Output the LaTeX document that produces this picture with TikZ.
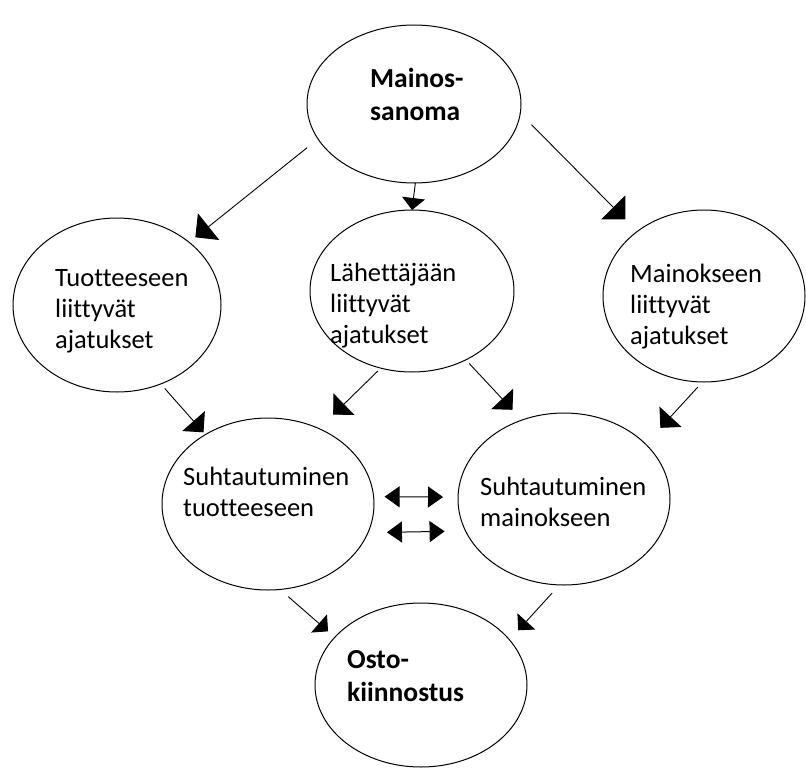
\documentclass[tikz,border=0pt]{standalone}
\usepackage{fontspec}
\setmainfont{Carlito}[Ligatures=NoCommon]
\usetikzlibrary{shapes.geometric,arrows.meta}
\begin{document}
\begin{tikzpicture}[x=1pt,y=-1pt,
  ell/.style={draw, line width=1pt, ellipse, inner sep=0pt, outer sep=0pt,
              minimum width=212pt, minimum height=172pt},
  txt/.style={anchor=base west, inner sep=0pt, font=\fontsize{26.5}{31}\selectfont},
  btxt/.style={anchor=base west, inner sep=0pt, font=\fontsize{27.5}{33}\selectfont\bfseries},
  arrbig/.style={line width=0.9pt, -{Triangle[length=17pt,width=34pt]}},
  arrmid/.style={line width=0.9pt, -{Triangle[length=15pt,width=30pt]}},
  arrsmall/.style={line width=0.9pt, -{Triangle[length=12pt,width=24pt]}},
  arrvert/.style={line width=0.9pt, -{Triangle[length=12pt,width=23pt]}},
  arrdouble/.style={line width=1pt, {Triangle[length=15pt,width=21pt]}-{Triangle[length=15pt,width=21pt]}}
]
\useasboundingbox (0,0) rectangle (806,771);

% ellipses
\node[ell, minimum width=214pt, minimum height=158pt] (M) at (414,104) {};
\node[ell, minimum width=208pt, minimum height=174pt] (T) at (117,305) {};
\node[ell, minimum width=204pt, minimum height=162pt] (L) at (412,291) {};
\node[ell, minimum width=202pt, minimum height=172pt] (K) at (704,296) {};
\node[ell] (ST) at (268,504) {};
\node[ell] (SM) at (564,499) {};
\node[ell, minimum width=212pt, minimum height=164pt] (O) at (421,685) {};

% texts
\node[btxt] (Mt) at (370,87) {\vtop{\hbox{Mainos-}\hbox{sanoma}}};
\node[txt] (Tt) at (55,286) {\vtop{\hbox{Tuotteeseen}\hbox{liittyvät}\hbox{ajatukset}}};
\node[txt] (Lt) at (330,281) {\vtop{\hbox{Lähettäjään}\hbox{liittyvät}\hbox{ajatukset}}};
\node[txt] (Kt) at (630,282) {\vtop{\hbox{Mainokseen}\hbox{liittyvät}\hbox{ajatukset}}};
\node[txt] (STt) at (183,485) {\vtop{\hbox{Suhtautuminen}\hbox{tuotteeseen}}};
\node[txt] (SMt) at (480,495) {\vtop{\hbox{Suhtautuminen}\hbox{mainokseen}}};
\node[btxt] (Ot) at (347,668) {\vtop{\hbox{Osto-}\hbox{kiinnostus}}};

% arrows
\draw[arrbig, shorten <=14pt, shorten >=8pt] (M.200) -- (T.41);
\draw[arrvert] (M.271) -- (L.north);
\draw[arrbig, shorten <=16pt, shorten >=17pt] (M.355) -- (K.136);
\draw[arrmid, shorten <=6pt, shorten >=3pt] (T.299) -- (ST.132);
\draw[arrmid, shorten <=4pt, shorten >=20pt] (L.248) -- (ST.56);
\draw[arrmid, shorten <=5pt, shorten >=14pt] (L.308) -- (SM.118);
\draw[arrmid, shorten <=7pt, shorten >=22pt] (K.269) -- (SM.34);
\draw[arrsmall, shorten <=11pt, shorten >=9pt] (ST.278) -- (O.151);
\draw[arrsmall, shorten <=11pt, shorten >=13pt] (SM.267) -- (O.27);
\draw[arrdouble, shorten <=11pt, shorten >=15pt] (ST.4) -- (SM.179);
\draw[arrdouble, shorten <=19pt, shorten >=21pt] (ST.344.4) -- (SM.198.6);
\end{tikzpicture}
\end{document}
